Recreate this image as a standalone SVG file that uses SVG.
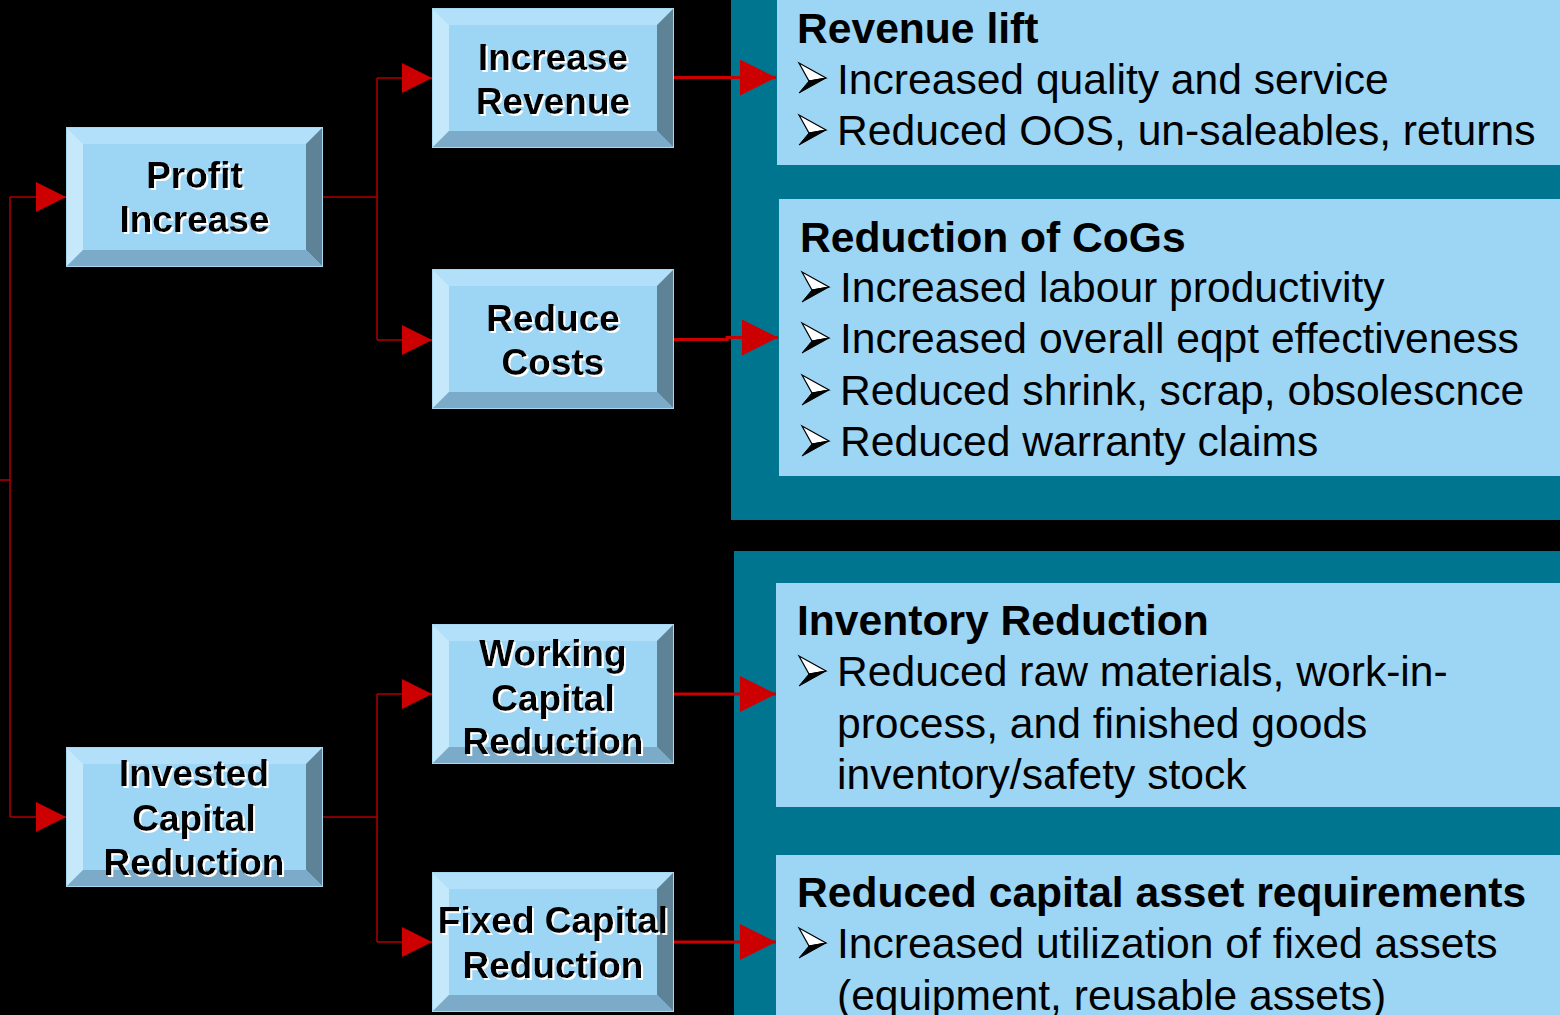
<svg xmlns="http://www.w3.org/2000/svg" xmlns:xlink="http://www.w3.org/1999/xlink" width="1560" height="1015" viewBox="0 0 1560 1015">
<style>
.face{fill:#9DD5F5}
.btop{fill:#B2E0FA}
.bleft{fill:#C5E8FB}
.bright{fill:#5E8296}
.bbot{fill:#7BABC8}
.edge{fill:none;stroke:#A8D8F0;stroke-width:1}
.lbl{font-family:"Liberation Sans",Arial,sans-serif;font-weight:bold;font-size:37px;fill:#000;text-anchor:middle;filter:url(#ws)}
.teal{fill:#00758F}
.pane{fill:#9DD5F5}
.hd{font-family:"Liberation Sans",Arial,sans-serif;font-weight:bold;font-size:42.6px;fill:#000}
.tx{font-family:"Liberation Sans",Arial,sans-serif;font-size:42.6px;fill:#000}
.thin{fill:none;stroke:#B00000;stroke-width:1.5}
.thick{fill:none;stroke:#CC0000;stroke-width:3}
</style>
<defs>
<filter id="ws" x="-10%" y="-10%" width="130%" height="140%">
<feDropShadow dx="2" dy="2" stdDeviation="0" flood-color="#FFFFFF" flood-opacity="1"/>
</filter>
<marker id="ah" viewBox="0 0 30 30" refX="30" refY="15" markerWidth="30" markerHeight="30" markerUnits="userSpaceOnUse" orient="auto">
<path d="M0,0 L30,15 L0,30 Z" fill="#CC0000"/>
</marker>
<marker id="ahB" viewBox="0 0 36 36" refX="36" refY="18" markerWidth="36" markerHeight="36" markerUnits="userSpaceOnUse" orient="auto">
<path d="M0,0 L36,18 L0,36 Z" fill="#CC0000"/>
</marker>
<g id="bevM">
<rect class="face" x="0" y="0" width="242" height="140"/>
<polygon class="btop" points="0,0 242,0 225,17 17,17"/>
<polygon class="bleft" points="0,0 17,17 17,123 0,140"/>
<polygon class="bright" points="242,0 242,140 225,123 225,17"/>
<polygon class="bbot" points="0,140 242,140 225,123 17,123"/>
<rect class="edge" x="0.5" y="0.5" width="241" height="139"/>
</g>
<g id="bevL">
<rect class="face" x="0" y="0" width="257" height="140"/>
<polygon class="btop" points="0,0 257,0 240,17 17,17"/>
<polygon class="bleft" points="0,0 17,17 17,123 0,140"/>
<polygon class="bright" points="257,0 257,140 240,123 240,17"/>
<polygon class="bbot" points="0,140 257,140 240,123 17,123"/>
<rect class="edge" x="0.5" y="0.5" width="256" height="139"/>
</g>
<g id="bul">
<polygon points="-27,-15 0,0 -17,3" fill="#FFFFFF" stroke="#000" stroke-width="1.2" stroke-linejoin="miter"/>
<polygon points="-17,3 0,0 -27,15" fill="#000" stroke="#000" stroke-width="1"/>
</g>
</defs>
<rect x="0" y="0" width="1560" height="1015" fill="#000"/>

<g id="panels">
<rect class="teal" x="731" y="0" width="829" height="520"/>
<rect class="teal" x="734" y="551" width="826" height="464"/>
</g>

<g id="revenue-lift">
<rect class="pane" x="777" y="0" width="783" height="165"/>
<text class="hd" x="797" y="43">Revenue lift</text>
<use xlink:href="#bul" x="826" y="78"/>
<text class="tx" x="837" y="94">Increased quality and service</text>
<use xlink:href="#bul" x="826" y="130"/>
<text class="tx" x="837" y="145">Reduced OOS, un-saleables, returns</text>
</g>

<g id="reduction-cogs">
<rect class="pane" x="779" y="199" width="781" height="277"/>
<text class="hd" x="800" y="252">Reduction of CoGs</text>
<use xlink:href="#bul" x="829" y="287"/>
<text class="tx" x="840" y="302">Increased labour productivity</text>
<use xlink:href="#bul" x="829" y="338"/>
<text class="tx" x="840" y="353">Increased overall eqpt effectiveness</text>
<use xlink:href="#bul" x="829" y="390"/>
<text class="tx" x="840" y="405">Reduced shrink, scrap, obsolescnce</text>
<use xlink:href="#bul" x="829" y="441"/>
<text class="tx" x="840" y="456">Reduced warranty claims</text>
</g>

<g id="inventory-reduction">
<rect class="pane" x="776" y="583" width="784" height="224"/>
<text class="hd" x="797" y="635">Inventory Reduction</text>
<use xlink:href="#bul" x="826" y="671"/>
<text class="tx" x="837" y="686">Reduced raw materials, work-in-</text>
<text class="tx" x="837" y="738">process, and finished goods</text>
<text class="tx" x="837" y="789">inventory/safety stock</text>
</g>

<g id="capital-asset">
<rect class="pane" x="776" y="855" width="784" height="160"/>
<text class="hd" x="797" y="907">Reduced capital asset requirements</text>
<use xlink:href="#bul" x="826" y="943"/>
<text class="tx" x="837" y="958">Increased utilization of fixed assets</text>
<text class="tx" x="837" y="1010">(equipment, reusable assets)</text>
</g>

<g id="connectors">
<path class="thin" d="M0,480 H10"/>
<path class="thin" d="M10,197 V817"/>
<path class="thin" d="M10,197 H66" marker-end="url(#ah)"/>
<path class="thin" d="M10,817 H66" marker-end="url(#ah)"/>
<path class="thin" d="M323,197 H377"/>
<path class="thin" d="M377,78 V340"/>
<path class="thin" d="M377,78 H432" marker-end="url(#ah)"/>
<path class="thin" d="M377,340 H432" marker-end="url(#ah)"/>
<path class="thin" d="M322,817 H377"/>
<path class="thin" d="M377,694 V942"/>
<path class="thin" d="M377,694 H432" marker-end="url(#ah)"/>
<path class="thin" d="M377,942 H432" marker-end="url(#ah)"/>
<path class="thick" d="M674,77.5 H776" marker-end="url(#ahB)"/>
<path class="thick" d="M674,339.5 H727 V337.5 H778" marker-end="url(#ahB)"/>
<path class="thick" d="M674,694 H776" marker-end="url(#ahB)"/>
<path class="thick" d="M674,942 H776" marker-end="url(#ahB)"/>
</g>

<g id="profit-increase">
<use xlink:href="#bevL" x="66" y="127"/>
<text class="lbl" x="194.5" y="188">Profit</text>
<text class="lbl" x="194.5" y="232">Increase</text>
</g>
<g id="invested-capital">
<use xlink:href="#bevL" x="66" y="747"/>
<text class="lbl" x="194" y="786">Invested</text>
<text class="lbl" x="194" y="831">Capital</text>
<text class="lbl" x="194" y="875">Reduction</text>
</g>
<g id="increase-revenue">
<use xlink:href="#bevM" x="432" y="8"/>
<text class="lbl" x="553" y="70">Increase</text>
<text class="lbl" x="553" y="114">Revenue</text>
</g>
<g id="reduce-costs">
<use xlink:href="#bevM" x="432" y="269"/>
<text class="lbl" x="553" y="331">Reduce</text>
<text class="lbl" x="553" y="375">Costs</text>
</g>
<g id="working-capital">
<use xlink:href="#bevM" x="432" y="624"/>
<text class="lbl" x="553" y="666">Working</text>
<text class="lbl" x="553" y="711">Capital</text>
<text class="lbl" x="553" y="754">Reduction</text>
</g>
<g id="fixed-capital">
<use xlink:href="#bevM" x="432" y="872"/>
<text class="lbl" x="553" y="933">Fixed Capital</text>
<text class="lbl" x="553" y="978">Reduction</text>
</g>
</svg>
